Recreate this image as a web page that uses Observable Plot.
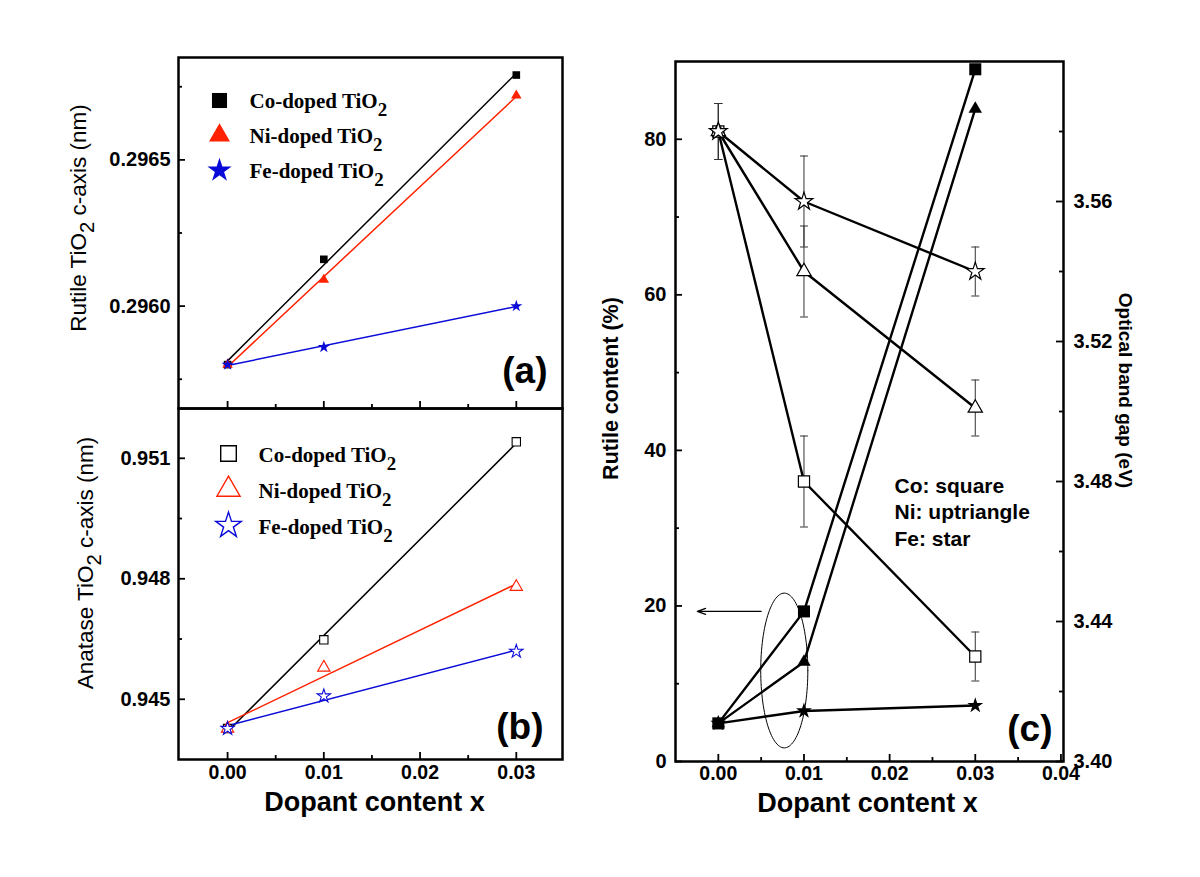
<!DOCTYPE html>
<html><head><meta charset="utf-8">
<script src="https://cdn.jsdelivr.net/npm/d3@7"></script>
<script src="https://cdn.jsdelivr.net/npm/@observablehq/plot@0.6"></script>
<style>
body{margin:0;background:#fff;}
#wrap{position:relative;width:1200px;height:877px;overflow:hidden;background:#fff;}
#wrap svg{position:absolute;left:0;top:0;}
</style></head><body><div id="wrap"></div>
<script>
// ---------------- data ----------------
const dopant = [0, 0.01, 0.03];
const series = ["Co", "Ni", "Fe"];
const legendLabels = ["Co-doped TiO{2}", "Ni-doped TiO{2}", "Fe-doped TiO{2}"];
// (a) rutile c-axis (nm)
const rutileC_Co = [0.29580, 0.29616, 0.29679];
const rutileC_Ni = [0.29580, 0.29609, 0.29672];
const rutileC_Fe = [0.29580, 0.29586, 0.29600];
// (b) anatase c-axis (nm)
const anataseC_Co = [0.94427, 0.94648, 0.95141];
const anataseC_Ni = [0.94427, 0.94579, 0.94780];
const anataseC_Fe = [0.94427, 0.94508, 0.94619];
// (c) rutile content (%)  -- filled symbols, left axis
const rutilePct_Co = [4.9, 19.3, 89.0];
const rutilePct_Ni = [4.9, 12.8, 83.9];
const rutilePct_Fe = [4.9, 6.5, 7.2];
// (c) optical band gap (eV) -- open symbols, right axis
const gap_Co = [3.580, 3.480, 3.430];
const gap_Ni = [3.580, 3.540, 3.501];
const gap_Fe = [3.580, 3.560, 3.540];
const gapErr_Co = [0.008, 0.013, 0.007];
const gapErr_Ni = [0.008, 0.013, 0.008];
const gapErr_Fe = [0.008, 0.013, 0.007];
// ticks
const xMajorAB = [0, 0.01, 0.02, 0.03], xMinorAB = [0.005, 0.015, 0.025];
const yMajorA = [0.2960, 0.2965], yMinorA = [0.29575, 0.29625, 0.29675];
const yMajorB = [0.945, 0.948, 0.951], yMinorB = [0.9465, 0.9495];
const xMajorC = [0, 0.01, 0.02, 0.03, 0.04], xMinorC = [0.005, 0.015, 0.025, 0.035];
const yMajorC = [0, 20, 40, 60, 80], yMinorC = [10, 30, 50, 70];
const y2MajorC = [3.40, 3.44, 3.48, 3.52, 3.56], y2MinorC = [3.42, 3.46, 3.50, 3.54, 3.58];
const noteLines = ["Co: square", "Ni: uptriangle", "Fe: star"];
// annotations (data units of panel c)
const ellipseC = {cx: 0.0077, cy: 11.7, rx: 0.00275, ry: 9.95};
const arrowC = {x1: 0.0050, x2: -0.00245, y: 19.3};

// ---------------- helpers ----------------
const W = 1200, H = 877;
const SANS = "'Liberation Sans', Arial, sans-serif";
const SERIF = "'Liberation Serif', 'Times New Roman', serif";
const RED = "#ff2200", BLUE = "#0a0ad8";
function box(l, r, t, b) { return {marginLeft: l, marginRight: W - r, marginTop: t, marginBottom: H - b, fw: r - l, fh: b - t}; }
const A = box(178, 562, 57, 408), B = box(178, 562, 408, 759), C = box(675, 1063, 61, 761);
const margins = p => ({marginLeft: p.marginLeft, marginRight: p.marginRight, marginTop: p.marginTop, marginBottom: p.marginBottom});

const TF = 20;
const yTicksL = (vals, p, len) => Plot.tickY(vals, {y: d => d, insetRight: p.fw - len, stroke: "#000", strokeWidth: 1.8});
const yTicksR = (vals, p, len) => Plot.tickY(vals, {y: d => d, insetLeft: p.fw - len, stroke: "#000", strokeWidth: 1.8});
const xTicks = (vals, p, len) => Plot.tickX(vals, {x: d => d, insetTop: p.fh - len, stroke: "#000", strokeWidth: 1.8});
const yLabelsL = (vals, fmt, dx = -8) => Plot.text(vals, {y: d => d, text: d => d3.format(fmt)(d), frameAnchor: "left", textAnchor: "end", dx, fontWeight: "bold", fontSize: TF});
const yLabelsR = (vals, fmt) => Plot.text(vals, {y: d => d, text: d => d3.format(fmt)(d), frameAnchor: "right", textAnchor: "start", dx: 10, fontWeight: "bold", fontSize: TF});
const xLabels = (vals, fmt, dy) => Plot.text(vals, {x: d => d, text: d => d3.format(fmt)(d), frameAnchor: "bottom", lineAnchor: "top", dy, fontWeight: "bold", fontSize: 19.5});
const note = (txt, o) => Plot.text([txt], {text: d => d, ...o});

const tableOf = (arrs) => series.flatMap((s, i) => dopant.map((x, j) => ({s, x, y: arrs[i][j]})));
const dataA = tableOf([rutileC_Co, rutileC_Ni, rutileC_Fe]);
const dataB = tableOf([anataseC_Co, anataseC_Ni, anataseC_Fe]);
const dataC = tableOf([rutilePct_Co, rutilePct_Ni, rutilePct_Fe]);
const gaps = [gap_Co, gap_Ni, gap_Fe], errs = [gapErr_Co, gapErr_Ni, gapErr_Fe];
const dataG = series.flatMap((s, i) => dopant.map((x, j) => ({s, x, y: gaps[i][j], e: errs[i][j]})));

const colorOf = {Co: "#000", Ni: RED, Fe: BLUE};
const symOf = {Co: "square", Ni: "triangle", Fe: "star"};
const capSymbol = {draw(ctx, size) { const w = Math.sqrt(size) / 2; ctx.moveTo(-w, 0); ctx.lineTo(w, 0); }};

const common = (p) => ({width: W, height: H, ...margins(p), style: {fontFamily: SANS, background: "transparent", overflow: "visible", color: "#000"}});

// ---------------- panel (a) ----------------
const rA = {Co: 4.3, Ni: 3.9, Fe: 3.8};
const legA = {Co: 8.5, Ni: 7.8, Fe: 7.6};
const pa = Plot.plot({
  ...common(A),
  x: {domain: [-0.0051, 0.0348], axis: null},
  y: {domain: [0.29565, 0.29685], axis: null},
  marks: [
    yTicksL(yMajorA, A, 7), yTicksL(yMinorA, A, 4),
    xTicks(xMajorAB, A, 7), xTicks(xMinorAB, A, 4),
    yLabelsL(yMajorA, ".4f"),
    ...series.map(s => Plot.linearRegressionY(dataA.filter(d => d.s === s), {x: "x", y: "y", stroke: colorOf[s], strokeWidth: 1.5, ci: 0})),
    ...series.map(s => Plot.dot(dataA.filter(d => d.s === s), {x: "x", y: "y", symbol: symOf[s], r: rA[s], fill: colorOf[s]})),
    ...series.map((s, i) => Plot.dot([s], {frameAnchor: "top-left", dx: 41, dy: 43 + 35 * i, symbol: symOf[s], r: legA[s], fill: colorOf[s]})),
    ...series.map((s, i) => note(legendLabels[i], {frameAnchor: "top-left", dx: 71, dy: 44 + 35 * i, textAnchor: "start", lineAnchor: "middle", fontFamily: SERIF, fontWeight: "bold", fontSize: 21})),
    note("Rutile TiO{2} c-axis (nm)", {frameAnchor: "left", dx: -100, dy: -15, rotate: -90, textAnchor: "middle", lineAnchor: "middle", fontSize: 22.5}),
    note("(a)", {frameAnchor: "bottom-right", dx: -15, dy: -26, textAnchor: "end", lineAnchor: "bottom", fontWeight: "bold", fontSize: 37}),
    Plot.frame({stroke: "#000", strokeWidth: 2.5})
  ]
});

// ---------------- panel (b) ----------------
const rB = {Co: 4.7, Ni: 4.6, Fe: 4.2};
const legB = {Co: 8.8, Ni: 8.6, Fe: 8.0};
const pb = Plot.plot({
  ...common(B),
  x: {domain: [-0.0051, 0.0348], axis: null},
  y: {domain: [0.9435, 0.95224], axis: null},
  marks: [
    yTicksL(yMajorB, B, 7), yTicksL(yMinorB, B, 4),
    xTicks(xMajorAB, B, 7), xTicks(xMinorAB, B, 4),
    yLabelsL(yMajorB, ".3f"),
    xLabels(xMajorAB, ".2f", 6),
    ...series.map(s => Plot.linearRegressionY(dataB.filter(d => d.s === s), {x: "x", y: "y", stroke: colorOf[s], strokeWidth: 1.5, ci: 0})),
    ...series.map(s => Plot.dot(dataB.filter(d => d.s === s), {x: "x", y: "y", symbol: symOf[s], r: rB[s], fill: "#fff", stroke: colorOf[s], strokeWidth: 1.1})),
    ...series.map((s, i) => Plot.dot([s], {frameAnchor: "top-left", dx: 50, dy: 45 + 36 * i, symbol: symOf[s], r: legB[s], fill: "none", stroke: colorOf[s], strokeWidth: 1.4})),
    ...series.map((s, i) => note(legendLabels[i], {frameAnchor: "top-left", dx: 80, dy: 47 + 36 * i, textAnchor: "start", lineAnchor: "middle", fontFamily: SERIF, fontWeight: "bold", fontSize: 21})),
    note("Anatase TiO{2} c-axis (nm)", {frameAnchor: "left", dx: -93, dy: -21, rotate: -90, textAnchor: "middle", lineAnchor: "middle", fontSize: 22.5}),
    note("Dopant content x", {frameAnchor: "bottom", dx: 4, dy: 51, textAnchor: "middle", lineAnchor: "bottom", fontWeight: "bold", fontSize: 27}),
    note("(b)", {frameAnchor: "bottom-right", dx: -19, dy: -21, textAnchor: "end", lineAnchor: "bottom", fontWeight: "bold", fontSize: 37}),
    Plot.frame({stroke: "#000", strokeWidth: 2.5})
  ]
});

// ---------------- panel (c), left axis: rutile content ----------------
const ellPts = d3.range(0, 361, 3).map(a => ({x: ellipseC.cx + ellipseC.rx * Math.cos(a * Math.PI / 180), y: ellipseC.cy + ellipseC.ry * Math.sin(a * Math.PI / 180)}));
const rC = {Co: 6.8, Ni: 5.0, Fe: 5.0};
const xDomC = [-0.005, 0.0403];
const pc = Plot.plot({
  ...common(C),
  x: {domain: xDomC, axis: null},
  y: {domain: [0, 90], axis: null},
  marks: [
    yTicksL(yMajorC, C, 7), yTicksL(yMinorC, C, 4),
    xTicks(xMajorC, C, 7), xTicks(xMinorC, C, 4),
    yLabelsL(yMajorC, "d", -9),
    xLabels(xMajorC, ".2f", 5),
    Plot.line(dataC, {x: "x", y: "y", z: "s", stroke: "#000", strokeWidth: 2.4}),
    ...series.map(s => Plot.dot(dataC.filter(d => d.s === s), {x: "x", y: "y", symbol: symOf[s], r: rC[s], fill: "#000"})),
    Plot.line(ellPts, {x: "x", y: "y", stroke: "#000", strokeWidth: 1}),
    Plot.arrow([arrowC], {x1: "x1", y1: "y", x2: "x2", y2: "y", stroke: "#000", strokeWidth: 1.2, headLength: 11, headAngle: 40}),
    ...noteLines.map((t, i) => note(t, {frameAnchor: "top-left", dx: 219, dy: 431 + 26.7 * i, textAnchor: "start", lineAnchor: "bottom", fontWeight: "bold", fontSize: 21})),
    note("Rutile content (%)", {frameAnchor: "left", dx: -64, dy: -23, rotate: -90, textAnchor: "middle", lineAnchor: "middle", fontWeight: "bold", fontSize: 21.5}),
    note("Dopant content x", {frameAnchor: "bottom", dx: -2, dy: 50, textAnchor: "middle", lineAnchor: "bottom", fontWeight: "bold", fontSize: 27}),
    note("(c)", {frameAnchor: "bottom-right", dx: -11, dy: -21, textAnchor: "end", lineAnchor: "bottom", fontWeight: "bold", fontSize: 37}),
    Plot.frame({stroke: "#000", strokeWidth: 2.5})
  ]
});

// ---------------- panel (c), right axis: optical band gap ----------------
const rG = {Co: 6.3, Ni: 5.3, Fe: 5.6};
const pc2 = Plot.plot({
  ...common(C),
  x: {domain: xDomC, axis: null},
  y: {domain: [3.40, 3.60], axis: null},
  marks: [
    yTicksR(y2MajorC, C, 7), yTicksR(y2MinorC, C, 4),
    yLabelsR(y2MajorC, ".2f"),
    Plot.ruleX(dataG, {x: "x", y1: d => d.y - d.e, y2: d => d.y + d.e, stroke: "#333", strokeWidth: 1}),
    Plot.dot(dataG, {x: "x", y: d => d.y - d.e, symbol: capSymbol, r: 4.5, fill: "none", stroke: "#333", strokeWidth: 1}),
    Plot.dot(dataG, {x: "x", y: d => d.y + d.e, symbol: capSymbol, r: 4.5, fill: "none", stroke: "#333", strokeWidth: 1}),
    Plot.line(dataG, {x: "x", y: "y", z: "s", stroke: "#000", strokeWidth: 2.4}),
    ...series.map(s => Plot.dot(dataG.filter(d => d.s === s), {x: "x", y: "y", symbol: symOf[s], r: rG[s], fill: "#fff", stroke: "#000", strokeWidth: 1.2})),
    note("Optical band gap (eV)", {frameAnchor: "right", dx: 62, dy: -21, rotate: 90, textAnchor: "middle", lineAnchor: "middle", fontWeight: "bold", fontSize: 19})
  ]
});

const wrap = document.getElementById("wrap");
[pa, pb, pc, pc2].forEach(p => wrap.appendChild(p));

// subscript "2" in TiO2
function applySub(svg) {
  const ns = "http://www.w3.org/2000/svg";
  svg.querySelectorAll("text").forEach(t => {
    const s = t.textContent;
    if (!s.includes("{2}")) return;
    const fs = parseFloat(getComputedStyle(t).fontSize) || 16;
    const parts = s.split("{2}");
    while (t.firstChild) t.removeChild(t.firstChild);
    t.appendChild(document.createTextNode(parts[0]));
    const sub = document.createElementNS(ns, "tspan");
    sub.setAttribute("dy", (0.36 * fs).toFixed(2));
    sub.setAttribute("font-size", (0.9 * fs).toFixed(2));
    sub.textContent = "2";
    t.appendChild(sub);
    if (parts[1]) {
      const rest = document.createElementNS(ns, "tspan");
      rest.setAttribute("dy", (-0.36 * fs).toFixed(2));
      rest.textContent = parts[1];
      t.appendChild(rest);
    }
  });
}
[pa, pb, pc, pc2].forEach(applySub);
</script>
</body></html>
